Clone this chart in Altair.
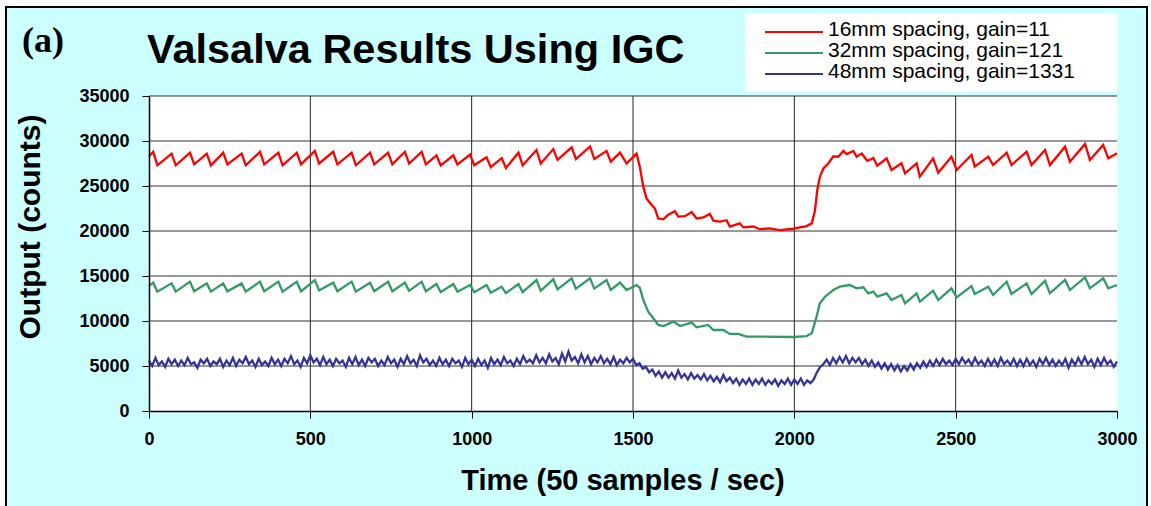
import altair as alt
import pandas as pd

# ---- series labels and colours ----
labels = ["16mm spacing, gain=11", "32mm spacing, gain=121", "48mm spacing, gain=1331"]
colors = ["#FF0000", "#339966", "#333399"]

# ---- 16mm channel: vertex times (samples) and output (counts) ----
red_t = [0, 13, 26, 70, 83, 127, 140, 179, 192, 230, 243, 287, 300, 344, 357, 401, 414,
         458, 471, 514, 527, 571, 584, 628, 641, 685, 698, 741, 754, 793, 806, 845, 858,
         891, 904, 943, 956, 995, 1008, 1046, 1059, 1093, 1106, 1145, 1158, 1201, 1214,
         1253, 1266, 1310, 1323, 1367, 1380, 1418, 1431, 1460, 1480, 1511,
         1521, 1532, 1542, 1558, 1568, 1578, 1594, 1609, 1630, 1640, 1661, 1682, 1697,
         1718, 1738, 1749, 1769, 1790, 1800, 1831, 1842, 1873, 1893, 1924, 1955, 1997,
         2017, 2038, 2054, 2064, 2071, 2079, 2090, 2105, 2121, 2136, 2152, 2162, 2183,
         2193, 2209, 2226, 2245, 2257, 2286, 2301, 2332, 2343, 2379, 2389, 2430, 2446,
         2487, 2503, 2549, 2559, 2601, 2616, 2658, 2673, 2720, 2735, 2777, 2792, 2839,
         2854, 2901, 2916, 2957, 2973, 3000]
red_v = [28300, 28800, 27300, 28600, 27300, 28700, 27400, 28600, 27300, 28700, 27400,
         28600, 27300, 28800, 27400, 28700, 27300, 28700, 27400, 28900, 27500, 28800,
         27400, 28700, 27300, 28700, 27400, 28700, 27400, 28800, 27500, 28800, 27400,
         28400, 27300, 28400, 27400, 28500, 27300, 28200, 27100, 28100, 27000, 28700,
         27300, 29000, 27500, 29100, 27900, 29300, 28000, 29400, 28000, 28900, 27700,
         28700, 27500, 28600,
         27150, 24900, 23600, 22900, 22500, 21400, 21300, 21800, 22200, 21600, 21650,
         22100, 21400, 21500, 21900, 21150, 21050, 21200, 20500, 20850, 20400, 20500,
         20200, 20300, 20100, 20250, 20400, 20550, 20850, 22300, 24550, 26000, 26950,
         27500, 28300, 28250, 28900, 28550, 28900, 28250, 28600, 27800, 28100, 27250,
         28070, 26780, 27520, 26410, 27520, 26040, 28070, 26480, 28260, 26780, 28440,
         27150, 28260, 27330, 28700, 27330, 28810, 27330, 29000, 27330, 29370, 27700,
         29670, 27890, 29560, 28070, 28630]

# ---- 32mm channel ----
green_t = [0, 13, 26, 70, 83, 127, 140, 179, 192, 230, 243, 287, 300, 344, 357, 401, 414,
           458, 471, 514, 527, 571, 584, 628, 641, 685, 698, 741, 754, 793, 806, 845, 858,
           891, 904, 943, 956, 995, 1008, 1046, 1059, 1093, 1106, 1145, 1158, 1201, 1214,
           1253, 1266, 1310, 1323, 1367, 1380, 1418, 1431, 1460, 1480, 1511,
           1521, 1532, 1547, 1563, 1578, 1594, 1625, 1646, 1682, 1697, 1733, 1749, 1780,
           1800, 1826, 1852, 1893, 1997, 2038, 2054, 2069, 2079, 2095, 2121, 2141, 2172,
           2193, 2214, 2229, 2245, 2257, 2286, 2301, 2332, 2343, 2379, 2389, 2430, 2446,
           2487, 2503, 2549, 2559, 2601, 2616, 2658, 2673, 2720, 2735, 2777, 2792, 2839,
           2854, 2901, 2916, 2957, 2973, 3000]
green_v = [13900, 14260, 13260, 14180, 13260, 14370, 13300, 14180, 13260, 14180, 13300,
           14180, 13260, 14370, 13300, 14370, 13260, 14370, 13300, 14550, 13400, 14260,
           13300, 14370, 13260, 14260, 13300, 14370, 13300, 14260, 13350, 14370, 13300,
           14110, 13200, 14110, 13260, 14000, 13200, 14000, 13150, 13810, 13100, 14110,
           13200, 14550, 13350, 14630, 13500, 14740, 13600, 14740, 13600, 14550, 13450,
           14260, 13440, 14000,
           13700, 12330, 11040, 10300, 9560, 9440, 9930, 9440, 9820, 9300, 9560, 9000,
           9000, 8560, 8560, 8260, 8260, 8220, 8330, 8630, 10480, 11960, 12700, 13440,
           13820, 14000, 13630, 13740, 13070, 13260, 12700, 13070, 12330, 12890, 11960,
           13070, 12150, 13370, 12330, 13630, 12630, 13890, 13000, 13810, 12890, 14370,
           13000, 14180, 13000, 14480, 13070, 14560, 13440, 14850, 13630, 14740, 13630,
           14000]

# ---- 48mm channel, read every 10 samples ----
blue_t = list(range(0, 3001, 10))
blue_v = [
    5600, 5000, 5900, 5100, 5500, 4900, 5800, 5200, 5700, 5000,
    5600, 5100, 5900, 5200, 5400, 4800, 5700, 5300, 5800, 5000,
    5500, 5200, 5800, 4900, 5600, 5100, 5900, 5000, 5700, 5300,
    6000, 5200, 5600, 4900, 5800, 5100, 5500, 5000, 5900, 5200,
    5700, 5000, 5800, 5300, 6100, 5200, 5600, 4900, 5900, 5300,
    6200, 5400, 5800, 5100, 6000, 5200, 5700, 5000, 5800, 5300,
    5600, 4900, 5900, 5200, 6000, 5100, 5700, 5000, 5900, 5400,
    5800, 5000, 5600, 5100, 6000, 5300, 5700, 4900, 5800, 5200,
    6100, 5300, 5700, 5000, 6200, 5400, 5800, 5100, 5600, 5000,
    5900, 5200, 5700, 5000, 5800, 5300, 5600, 4900, 5900, 5200,
    5700, 5000, 5800, 5100, 5600, 4800, 5900, 5200, 5700, 5100,
    6000, 5300, 5600, 5000, 5800, 5200, 6100, 5400, 5700, 5300,
    6200, 5400, 5900, 5300, 6300, 5500, 5900, 5200, 6400, 5500,
    6600, 5600, 6000, 5300, 6300, 5400, 6100, 5200, 5900, 5400,
    6100, 5300, 5800, 5200, 6000, 5100, 5700, 5300, 5900, 5400,
    5800, 5100, 5300, 4700, 4900, 4300, 4600, 3900, 4400, 3700,
    4300, 3700, 4200, 3600, 4500, 3700, 4100, 3500, 4200, 3600,
    4000, 3500, 4100, 3400, 3900, 3300, 3800, 3200, 4000, 3300,
    3700, 3100, 3600, 2900, 3500, 3000, 3600, 2900, 3500, 3000,
    3600, 2900, 3400, 3000, 3500, 2800, 3400, 3000, 3600, 2900,
    3500, 3000, 3600, 2900, 3400, 3100, 3500, 4300, 4900, 5200,
    5700, 5100, 5900, 5300, 6000, 5400, 6100, 5300, 5900, 5400,
    5900, 5200, 5700, 5000, 5600, 4900, 5400, 4700, 5300, 4600,
    5200, 4500, 5100, 4400, 5000, 4500, 5200, 4600, 5300, 4800,
    5500, 4900, 5600, 5000, 5700, 5100, 5800, 5200, 5600, 5100,
    5800, 5200, 5900, 5300, 5700, 5100, 5900, 5200, 5600, 5000,
    5800, 5100, 5700, 5000, 5900, 5200, 5600, 5100, 5800, 5000,
    5700, 5000, 5800, 5100, 5600, 4900, 5800, 5200, 5900, 5100,
    5700, 5000, 5600, 5100, 5800, 4800, 5700, 5100, 5900, 5200,
    6000, 5200, 5700, 4900, 5800, 5100, 5900, 5200, 5600, 4900,
    5500,
]

x_ticks = [0, 500, 1000, 1500, 2000, 2500, 3000]
y_ticks = [0, 5000, 10000, 15000, 20000, 25000, 30000, 35000]

title_text = "Valsalva Results Using IGC"
panel_text = "(a)"
x_title = "Time (50 samples / sec)"
y_title = "Output (counts)"

W, H = 968, 315
CYAN = "#CCFFFF"
SANS = "Liberation Sans"

frames = []
for name, ts, vs in [(labels[0], red_t, red_v), (labels[1], green_t, green_v), (labels[2], blue_t, blue_v)]:
    frames.append(pd.DataFrame({"t": ts, "v": vs, "series": name, "k": range(len(ts))}))
series_df = pd.concat(frames, ignore_index=True)

xs = alt.Scale(domain=[0, 3000], nice=False, zero=False)
ys = alt.Scale(domain=[0, 35000], nice=False)
color_scale = alt.Scale(domain=labels, range=colors)

x_axis = alt.Axis(values=x_ticks, title=None, tickSize=7, labelPadding=12,
                  labelFlush=False, format="d", zindex=1)
y_axis = alt.Axis(values=y_ticks, title=None, tickSize=7, labelPadding=13, format="d", zindex=1)

one = pd.DataFrame({"k": [0]})

# outer cyan panel with black frame
frame = alt.Chart(one).mark_rect(fill=CYAN, stroke="black", strokeWidth=2).encode(
    x=alt.value(-143), x2=alt.value(998), y=alt.value(-89), y2=alt.value(430))

# white plotting area
plot_bg = alt.Chart(one).mark_rect(fill="white").encode(
    x=alt.value(0), x2=alt.value(W), y=alt.value(0), y2=alt.value(H))

vgrid = alt.Chart(pd.DataFrame({"t": x_ticks[1:-1]})).mark_rule(color="#222222", strokeWidth=1).encode(
    x=alt.X("t:Q", scale=xs, axis=x_axis), y=alt.value(0), y2=alt.value(H))

hgrid = alt.Chart(pd.DataFrame({"v": y_ticks[1:]})).mark_rule(color="#333333", strokeWidth=1).encode(
    y=alt.Y("v:Q", scale=ys, axis=None), x=alt.value(0), x2=alt.value(W))

lines = alt.Chart(series_df).mark_line(interpolate="linear").encode(
    x=alt.X("t:Q", scale=xs, axis=x_axis),
    y=alt.Y("v:Q", scale=ys, axis=y_axis),
    color=alt.Color("series:N", scale=color_scale, legend=None),
    strokeWidth=alt.StrokeWidth("series:N", scale=alt.Scale(domain=labels, range=[2.3, 2.3, 3.2]),
                                legend=None),
    detail="series:N",
    order="k:Q",
)

# legend box
leg_df = pd.DataFrame({"label": labels})
leg_box = alt.Chart(one).mark_rect(fill="white").encode(
    x=alt.value(596), x2=alt.value(968), y=alt.value(-83), y2=alt.value(-4))
leg_y = alt.Y("label:N", sort=labels,
              scale=alt.Scale(type="point", domain=labels, range=[-64, -22], padding=0), axis=None)
leg_lines = alt.Chart(leg_df).mark_rule(strokeWidth=2).encode(
    x=alt.value(616), x2=alt.value(674), y=leg_y,
    color=alt.Color("label:N", scale=color_scale, legend=None))
leg_text = alt.Chart(leg_df).mark_text(align="left", baseline="middle", font=SANS, fontSize=21,
                                       color="black", dy=-2).encode(
    x=alt.value(679), y=leg_y, text="label:N")

# titles
title = alt.Chart(pd.DataFrame({"s": [title_text]})).mark_text(
    font=SANS, fontWeight="bold", fontSize=41.5, align="left", baseline="alphabetic", color="black").encode(
    x=alt.value(-2), y=alt.value(-33), text="s:N")
panel = alt.Chart(pd.DataFrame({"s": [panel_text]})).mark_text(
    font="Liberation Serif", fontWeight="bold", fontSize=36, align="left", baseline="alphabetic",
    color="black").encode(x=alt.value(-127), y=alt.value(-44), text="s:N")
xt = alt.Chart(pd.DataFrame({"s": [x_title]})).mark_text(
    font=SANS, fontWeight="bold", fontSize=29, align="center", baseline="alphabetic", color="black").encode(
    x=alt.value(474), y=alt.value(394), text="s:N")
yt = alt.Chart(pd.DataFrame({"s": [y_title]})).mark_text(
    font=SANS, fontWeight="bold", fontSize=30, align="center", baseline="middle", angle=270,
    color="black").encode(x=alt.value(-118), y=alt.value(131), text="s:N")

chart = alt.layer(
    frame, plot_bg, vgrid, hgrid, lines, leg_box, leg_lines, leg_text, title, panel, xt, yt
).resolve_scale(
    y="independent"
).properties(
    width=W, height=H,
    autosize=alt.AutoSizeParams(type="none"),
    padding={"left": 149, "top": 96, "right": 34, "bottom": 95},
    background="white",
).configure_view(
    stroke=None, fill=None
).configure_axis(
    labelFont=SANS, labelFontWeight="bold", labelFontSize=18, labelColor="black",
    tickColor="black", domainColor="black", domainWidth=1.5, tickWidth=1, grid=False,
)

chart.save("out.html", embed_options={"renderer": "svg", "actions": False})
